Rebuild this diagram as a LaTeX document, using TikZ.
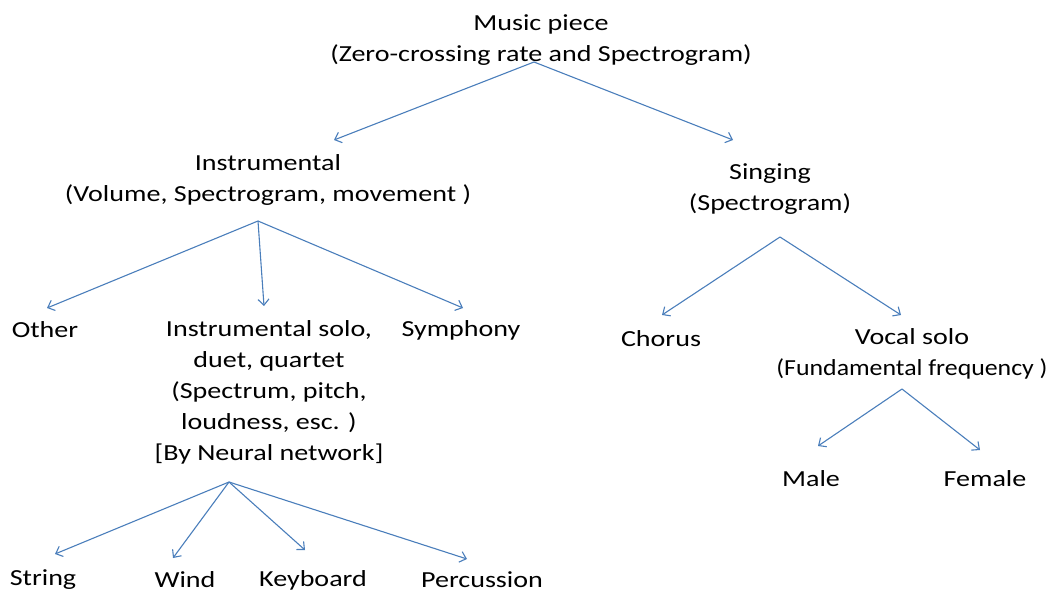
\documentclass[tikz,border=0pt]{standalone}
\usepackage{fontspec}
\setmainfont{Carlito}[FakeStretch=1.22]
\usepackage{xcolor}
\usetikzlibrary{arrows.meta}
\definecolor{linkc}{HTML}{4A7EBB}
\tikzset{
  ar/.style={-{Straight Barb[length=6pt,width=11pt]},line width=1.1pt,linkc},
  lbl/.style={align=center,inner sep=0pt,font=\fontsize{23}{31}\selectfont}
}

\begin{document}
\begin{tikzpicture}[x=1pt,y=-1pt]
\useasboundingbox (0,0) rectangle (1052,594);
% top level
\node[lbl] (music) at (541,40) {Music piece\\(Zero-crossing rate and Spectrogram)};
\node[lbl] (instr) at (268,180) {Instrumental\\(Volume, Spectrogram, movement )};
\node[lbl] (sing) at (770,189) {Singing\\(Spectrogram)};
% instrumental branch
\node[lbl] (other) at (45,330) {Other};
\node[lbl] (solo) at (269,392) {Instrumental solo,\\duet, quartet\\(Spectrum, pitch,\\loudness, esc. )\\{[By Neural network]}};
\node[lbl] (symph) at (461,330) {Symphony};
\node[lbl] (string) at (43,580) {String};
\node[lbl] (wind) at (185,580) {Wind};
\node[lbl] (keyb) at (313,580) {Keyboard};
\node[lbl] (perc) at (482,580) {Percussion};
% singing branch
\node[lbl] (chorus) at (661,339) {Chorus};
\node[lbl] (vocal) at (912,354) {Vocal solo\\\scalebox{0.92}[1]{(Fundamental frequency )}};
\node[lbl] (male) at (811,479) {Male};
\node[lbl] (female) at (985,479) {Female};
% fork points and arrow ends
\coordinate (music-fork) at (534,62);
\coordinate (instr-in) at (334,140);
\coordinate (sing-in) at (733,140);
\coordinate (instr-fork) at (258,221);
\coordinate (other-in) at (47,308);
\coordinate (solo-in) at (264,306);
\coordinate (symph-in) at (463,308);
\coordinate (solo-fork) at (229,482);
\coordinate (string-in) at (55,554);
\coordinate (wind-in) at (173,558);
\coordinate (keyb-in) at (305,550);
\coordinate (perc-in) at (467,559);
\coordinate (sing-fork) at (780,237);
\coordinate (chorus-in) at (662,315);
\coordinate (vocal-in) at (901,315);
\coordinate (vocal-fork) at (902,389);
\coordinate (male-in) at (818,446);
\coordinate (female-in) at (980,450);
% connectors
\foreach \a/\b in {music-fork/instr-in,music-fork/sing-in,
  instr-fork/other-in,instr-fork/solo-in,instr-fork/symph-in,
  solo-fork/string-in,solo-fork/wind-in,solo-fork/keyb-in,solo-fork/perc-in,
  sing-fork/chorus-in,sing-fork/vocal-in,vocal-fork/male-in,vocal-fork/female-in}
  \draw[ar] (\a) -- (\b);
\end{tikzpicture}
\end{document}
